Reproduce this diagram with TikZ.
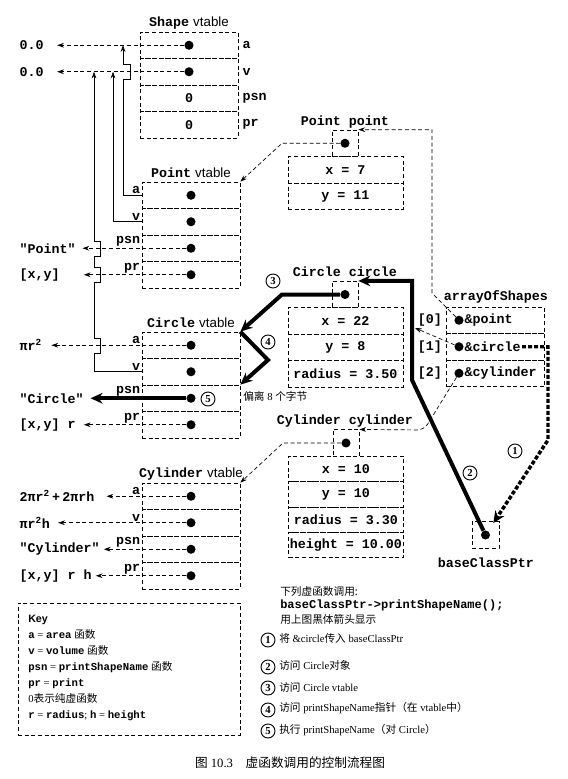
\documentclass[tikz,border=0pt]{standalone}
\usepackage{fontspec}
\setmainfont{Liberation Serif}
\newfontfamily\cjk{Noto Sans CJK SC}
\newfontfamily\code{Liberation Mono}
\newfontfamily\sanf{Liberation Sans}
\usetikzlibrary{arrows.meta}

\newcommand\kw[1]{{\code\bfseries #1}}

\tikzset{
  slot/.style={draw, densely dashed, line width=0.5pt, inner sep=0pt, minimum width=73.5pt, minimum height=19.875pt, font=\code\bfseries\fontsize{10}{12}\selectfont},
  objslot/.style={slot, minimum width=86.25pt},
  vptr/.style={slot, minimum width=19.5pt},
  dot/.style={circle, fill, inner sep=0pt, minimum size=6.8pt},
  txt/.style={font=\code\bfseries\fontsize{10}{12}\selectfont, inner sep=1pt},
  ptr/.style={densely dashed, line width=0.5pt, -{Stealth[length=5pt,width=3.5pt]}},
  lane/.style={line width=0.5pt, -{Stealth[length=5pt,width=3.5pt]}},
  flow/.style={line width=3pt, -{Stealth[length=9pt,width=8pt]}},
  num/.style={circle, draw, line width=0.7pt, inner sep=0pt, minimum size=10.5pt, font=\bfseries\fontsize{8}{8}\selectfont},
  note/.style={anchor=west, inner sep=0pt, font=\fontsize{8}{10}\selectfont},
}

\begin{document}
\begin{tikzpicture}[x=0.75pt,y=0.75pt,yscale=-1,xscale=1]
    \useasboundingbox (0,0) rectangle (568,779);

    % Shape vtable
    \node[txt] (sh-t) at (189,23) {Shape\hspace{3pt}{\sanf\mdseries vtable}};
    \node[slot] (sa) at (189,45.25) {};
    \node[slot] (sv) at (189,71.75) {};
    \node[slot] (spsn) at (189,98.25) {0};
    \node[slot] (spr) at (189,124.75) {0};
    \node[dot] (sa-d) at (sa) {};
    \node[dot] (sv-d) at (sv) {};
    \node[txt, anchor=west, inner sep=3pt] at (sa.east) {a};
    \node[txt, anchor=west, inner sep=3pt] at (sv.east) {v};
    \node[txt, anchor=west, inner sep=3pt] at (spsn.east) {psn};
    \node[txt, anchor=west, inner sep=3pt] at (spr.east) {pr};
    \node[txt, anchor=west] (s-a) at (18,45.25) {0.0};
    \node[txt, anchor=west] (s-v) at (18,71.75) {0.0};
    \draw[ptr, shorten >=9pt] (sa-d) -- (s-a);
    \draw[ptr, shorten >=9pt] (sv-d) -- (s-v);

    % Point vtable
    \node[txt] (pt-t) at (191,173) {Point\hspace{3pt}{\sanf\mdseries vtable}};
    \node[slot] (pa) at (191,195.25) {};
    \node[slot] (pv) at (191,221.75) {};
    \node[slot] (ppsn) at (191,248.25) {};
    \node[slot] (ppr) at (191,274.75) {};
    \node[dot] (pa-d) at (pa) {};
    \node[dot] (pv-d) at (pv) {};
    \node[dot] (ppsn-d) at (ppsn) {};
    \node[dot] (ppr-d) at (ppr) {};
    \node[txt, anchor=south east] at (pa.west) {a};
    \node[txt, anchor=south east] at (pv.west) {v};
    \node[txt, anchor=south east] at (ppsn.west) {psn};
    \node[txt, anchor=south east] at (ppr.west) {pr};
    \node[txt, anchor=west] (p-psn) at (18,248.25) {"Point"};
    \node[txt, anchor=west] (p-pr) at (18,274.75) {[x,y]};
    \draw[ptr, shorten >=4pt] (ppsn-d) -- (p-psn);
    \draw[ptr, shorten >=17pt] (ppr-d) -- (p-pr);

    % Circle vtable
    \node[txt] (ct-t) at (191,323) {Circle\hspace{3pt}{\sanf\mdseries vtable}};
    \node[slot] (ca) at (191,345.25) {};
    \node[slot] (cv) at (191,371.75) {};
    \node[slot] (cpsn) at (191,398.25) {};
    \node[slot] (cpr) at (191,424.75) {};
    \node[dot] (ca-d) at (ca) {};
    \node[dot] (cv-d) at (cv) {};
    \node[dot] (cpsn-d) at (cpsn) {};
    \node[dot] (cpr-d) at (cpr) {};
    \node[txt, anchor=south east] at (ca.west) {a};
    \node[txt, anchor=south east] at (cv.west) {v};
    \node[txt, anchor=south east] at (cpsn.west) {psn};
    \node[txt, anchor=south east] at (cpr.west) {pr};
    \node[txt, anchor=west] (c-a) at (18,345.25) {πr\textsuperscript{2}};
    \node[txt, anchor=west] (c-psn) at (18,398.25) {"Circle"};
    \node[txt, anchor=west] (c-pr) at (18,424.75) {[x,y] r};
    \draw[ptr, shorten >=6pt] (ca-d) -- (c-a);
    \draw[ptr, shorten >=5pt] (cpr-d) -- (c-pr);

    % Cylinder vtable
    \node[txt] (yt-t) at (191,474) {Cylinder\hspace{3pt}{\sanf\mdseries vtable}};
    \node[slot] (ya) at (191,496.25) {};
    \node[slot] (yv) at (191,522.75) {};
    \node[slot] (ypsn) at (191,549.25) {};
    \node[slot] (ypr) at (191,575.75) {};
    \node[dot] (ya-d) at (ya) {};
    \node[dot] (yv-d) at (yv) {};
    \node[dot] (ypsn-d) at (ypsn) {};
    \node[dot] (ypr-d) at (ypr) {};
    \node[txt, anchor=south east] at (ya.west) {a};
    \node[txt, anchor=south east] at (yv.west) {v};
    \node[txt, anchor=south east] at (ypsn.west) {psn};
    \node[txt, anchor=south east] at (ypr.west) {pr};
    \node[txt, anchor=west] (y-a) at (18,496.25) {2πr\textsuperscript{2}\,+\,2πrh};
    \node[txt, anchor=west] (y-v) at (18,522.75) {πr\textsuperscript{2}h};
    \node[txt, anchor=west] (y-psn) at (18,549.25) {"Cylinder"};
    \node[txt, anchor=west] (y-pr) at (18,575.75) {[x,y] r h};
    \draw[ptr, shorten >=8pt] (ya-d) -- (y-a);
    \draw[ptr, shorten >=5pt] (yv-d) -- (y-v);
    \draw[ptr, shorten >=2pt] (ypsn-d) -- (y-psn);
    \draw[ptr, shorten >=2pt] (ypr-d) -- (y-pr);

    % inherited entries
    \coordinate (laneA) at (123,0);
    \coordinate (laneB) at (113,0);
    \coordinate (laneC) at (94,0);
    \draw[lane] (pa.west) -| (123,79) -- (130,79) -- (130,64) -- (123,64) -- (sa.west -| laneA);
    \draw[lane] (pv.west) -| (sv.west -| laneB);
    \draw[lane] (cv.west) -| (94,353) -- (100,353) -- (100,338) -- (94,338) -- (94,282) -- (100,282) -- (100,267) -- (94,267)
        -- (94,256) -- (100,256) -- (100,241) -- (94,241) -- (sv.west -| laneC);

    % objects
    \node[txt] (pp-t) at (345,122) {Point point};
    \node[vptr] (pp-vp) at (345,143.25) {};
    \node[dot] (pp-vp-d) at (pp-vp) {};
    \node[objslot] (pp-x) at (345.5,169.75) {x = 7};
    \node[objslot] (pp-y) at (345.5,196.25) {y = 11};

    \node[txt] (cc-t) at (345,272) {Circle circle};
    \node[vptr] (cc-vp) at (345,294.5) {};
    \node[dot] (cc-vp-d) at (cc-vp) {};
    \node[objslot] (cc-x) at (345.5,320.75) {x = 22};
    \node[objslot] (cc-y) at (345.5,347.25) {y = 8};
    \node[objslot] (cc-r) at (345.5,373.75) {radius = 3.50};

    \node[txt] (cy-t) at (345,421) {Cylinder cylinder};
    \node[vptr] (cy-vp) at (346,443) {};
    \node[dot] (cy-vp-d) at (cy-vp) {};
    \node[objslot, minimum height=19pt] (cy-x) at (346,469) {x = 10};
    \node[objslot, minimum height=19pt] (cy-y) at (346,494.33) {y = 10};
    \node[objslot, minimum height=19pt] (cy-r) at (346,519.67) {radius = 3.30};
    \node[objslot, minimum height=19pt] (cy-h) at (346,545) {height = 10.00};

    \draw[ptr] (pp-vp-d) -- (282,143.25) -- (pa.north east);
    \draw[ptr] (cy-vp-d) -- (283,443) -- (ya.north east);

    % arrayOfShapes
    \node[txt] (ar-t) at (496,297) {arrayOfShapes};
    \node[slot] (ar0) at (495.5,320.25) {};
    \node[slot] (ar1) at (495.5,346.75) {};
    \node[slot] (ar2) at (495.5,373.25) {};
    \node[txt, anchor=east, inner sep=3pt] at (ar0.west) {[0]};
    \node[txt, anchor=east, inner sep=3pt] at (ar1.west) {[1]};
    \node[txt, anchor=east, inner sep=3pt] at (ar2.west) {[2]};
    \node[dot] (ar0-d) at (459,320.25) {};
    \node[dot] (ar1-d) at (459,346.75) {};
    \node[dot] (ar2-d) at (459,373.25) {};
    \node[txt, anchor=west] (ar0-t) at (463,320.25) {\&point};
    \node[txt, anchor=west] (ar1-t) at (463,346.75) {\&circle};
    \node[txt, anchor=west] (ar2-t) at (463,373.25) {\&cylinder};
    \coordinate (cc-hit) at (415,328);
    \draw[ptr] (ar0-d) -- (432,293) |- (pp-vp.north east);
    \draw[ptr] (ar1-d) -- (cc-hit);
    \draw[ptr, rounded corners=5pt] (ar2-d) -- (424,430) -- (cy-vp.north east);

    % baseClassPtr
    \node[vptr, minimum width=20.25pt] (bcp) at (485.5,535) {};
    \node[dot] (bcp-d) at (bcp) {};
    \node[txt] (bcp-t) at (486,563) {baseClassPtr};

    % call path
    \draw[flow, dash pattern=on 3pt off 1.5pt, line width=2.6pt, shorten >=7pt] (ar1-t.east) -| (548,440) -- (bcp-d);
    \draw[flow] (bcp-d) -- (412,380) |- (cc-vp.north east);
    \draw[flow] (cc-vp-d) -- (282,294.5) -- (ca.north east);
    \draw[flow] (ca.north east) -- (268,360) -- (cpsn.north east);
    \draw[flow, shorten >=4pt] (cpsn-d) -- (c-psn);
    \node[num] (n1) at (515,451) {1};
    \node[num] (n2) at (470,473) {2};
    \node[num] (n3) at (273,281) {3};
    \node[num] (n4) at (268,342) {4};
    \node[num] (n5) at (208,399) {5};
    \node[note] (off) at (243,396) {{\cjk 偏离} 8 {\cjk 个字节}};

    % key
    \node[draw, densely dashed, line width=0.5pt, minimum width=166.5pt, minimum height=99pt, inner sep=0pt] (key) at (129,669) {};
    \node[anchor=north west, align=left, inner sep=0pt, font=\fontsize{8}{12}\selectfont] (key-t) at (28,615) {%
      {\sanf\bfseries Key}\\
      \kw{a} = \kw{area} {\cjk 函数}\\
      \kw{v} = \kw{volume} {\cjk 函数}\\
      \kw{psn} = \kw{printShapeName} {\cjk 函数}\\
      \kw{pr} = \kw{print}\\
      0{\cjk 表示纯虚函数}\\
      \kw{r} = \kw{radius}; \kw{h} = \kw{height}};

    % legend
    \node[note] (call1) at (280,591) {{\cjk 下列虚函数调用:}};
    \node[note, font=\code\bfseries\fontsize{9}{11}\selectfont] (call2) at (280,605) {baseClassPtr->printShapeName();};
    \node[note] (call3) at (280,619) {{\cjk 用上图黑体箭头显示}};
    \node[num] (s1) at (268,640) {1};
    \node[num] (s2) at (268,667) {2};
    \node[num] (s3) at (268,688) {3};
    \node[num] (s4) at (268,710) {4};
    \node[num] (s5) at (268,731) {5};
    \node[note] (s1-t) at (279,638) {{\cjk 将} \&circle{\cjk 传入} baseClassPtr};
    \node[note] (s2-t) at (279,665) {{\cjk 访问} Circle{\cjk 对象}};
    \node[note] (s3-t) at (279,687) {{\cjk 访问} Circle vtable};
    \node[note] (s4-t) at (279,708) {{\cjk 访问} printShapeName{\cjk 指针（在} vtable{\cjk 中）}};
    \node[note] (s5-t) at (279,730) {{\cjk 执行} printShapeName{\cjk （对} Circle{\cjk ）}};

    \node[font=\fontsize{9.5}{11}\selectfont] (cap) at (290,763) {{\cjk 图} 10.3\quad{\cjk 虚函数调用的控制流程图}};

\end{tikzpicture}
\end{document}
